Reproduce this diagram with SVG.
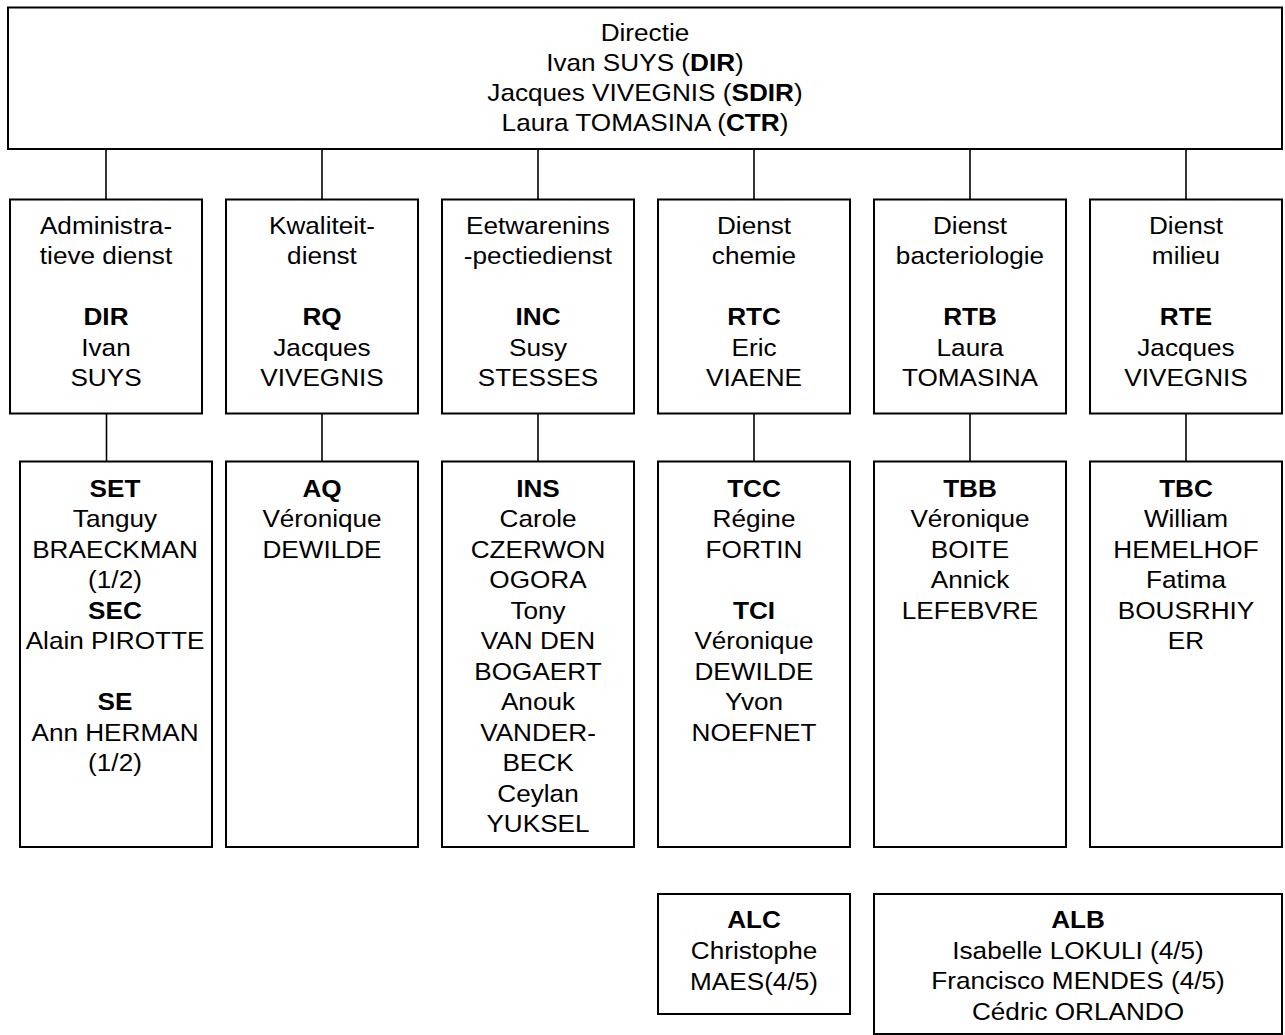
<svg xmlns="http://www.w3.org/2000/svg" width="1285" height="1035" viewBox="0 0 1285 1035">
<style>
  .box { fill: #ffffff; stroke: #000000; stroke-width: 2; }
  .conn line { stroke: #000000; stroke-width: 1.6; }
  text { font-family: "Liberation Sans", Arial, sans-serif; font-size: 24px; fill: #000000; text-anchor: middle; }
  .b { font-weight: bold; }
</style>
<rect x="0" y="0" width="1285" height="1035" fill="#ffffff"/>

<g id="connectors" class="conn">
  <line x1="106" y1="149" x2="106" y2="199.5"/>
  <line x1="322" y1="149" x2="322" y2="199.5"/>
  <line x1="538" y1="149" x2="538" y2="199.5"/>
  <line x1="754" y1="149" x2="754" y2="199.5"/>
  <line x1="970" y1="149" x2="970" y2="199.5"/>
  <line x1="1186" y1="149" x2="1186" y2="199.5"/>
  <line x1="106.5" y1="413.5" x2="106.5" y2="461.5"/>
  <line x1="322" y1="413.5" x2="322" y2="461.5"/>
  <line x1="538" y1="413.5" x2="538" y2="461.5"/>
  <line x1="754" y1="413.5" x2="754" y2="461.5"/>
  <line x1="970" y1="413.5" x2="970" y2="461.5"/>
  <line x1="1186" y1="413.5" x2="1186" y2="461.5"/>
</g>

<g id="directie">
  <rect class="box" x="8" y="7.5" width="1274" height="141.5"/>
  <g transform="translate(645,0) scale(1.09,1)">
    <text x="0" y="41.5">Directie</text>
    <text x="0" y="71.5">Ivan SUYS (<tspan class="b">DIR</tspan>)</text>
    <text x="0" y="101.5">Jacques VIVEGNIS (<tspan class="b">SDIR</tspan>)</text>
    <text x="0" y="131.5">Laura TOMASINA (<tspan class="b">CTR</tspan>)</text>
  </g>
</g>

<g id="admin">
  <rect class="box" x="10" y="199.5" width="192" height="214"/>
  <g transform="translate(106,0) scale(1.09,1)">
    <text x="0" y="234">Administra-</text>
    <text x="0" y="264.5">tieve dienst</text>
    <text x="0" y="325.5" class="b">DIR</text>
    <text x="0" y="356">Ivan</text>
    <text x="0" y="386.5">SUYS</text>
  </g>
</g>

<g id="kwaliteit">
  <rect class="box" x="226" y="199.5" width="192" height="214"/>
  <g transform="translate(322,0) scale(1.09,1)">
    <text x="0" y="234">Kwaliteit-</text>
    <text x="0" y="264.5">dienst</text>
    <text x="0" y="325.5" class="b">RQ</text>
    <text x="0" y="356">Jacques</text>
    <text x="0" y="386.5">VIVEGNIS</text>
  </g>
</g>

<g id="eetwaren">
  <rect class="box" x="442" y="199.5" width="192" height="214"/>
  <g transform="translate(538,0) scale(1.09,1)">
    <text x="0" y="234">Eetwarenins</text>
    <text x="0" y="264.5">-pectiedienst</text>
    <text x="0" y="325.5" class="b">INC</text>
    <text x="0" y="356">Susy</text>
    <text x="0" y="386.5">STESSES</text>
  </g>
</g>

<g id="chemie">
  <rect class="box" x="658" y="199.5" width="192" height="214"/>
  <g transform="translate(754,0) scale(1.09,1)">
    <text x="0" y="234">Dienst</text>
    <text x="0" y="264.5">chemie</text>
    <text x="0" y="325.5" class="b">RTC</text>
    <text x="0" y="356">Eric</text>
    <text x="0" y="386.5">VIAENE</text>
  </g>
</g>

<g id="bacteriologie">
  <rect class="box" x="874" y="199.5" width="192" height="214"/>
  <g transform="translate(970,0) scale(1.09,1)">
    <text x="0" y="234">Dienst</text>
    <text x="0" y="264.5">bacteriologie</text>
    <text x="0" y="325.5" class="b">RTB</text>
    <text x="0" y="356">Laura</text>
    <text x="0" y="386.5">TOMASINA</text>
  </g>
</g>

<g id="milieu">
  <rect class="box" x="1090" y="199.5" width="192" height="214"/>
  <g transform="translate(1186,0) scale(1.09,1)">
    <text x="0" y="234">Dienst</text>
    <text x="0" y="264.5">milieu</text>
    <text x="0" y="325.5" class="b">RTE</text>
    <text x="0" y="356">Jacques</text>
    <text x="0" y="386.5">VIVEGNIS</text>
  </g>
</g>

<g id="set">
  <rect class="box" x="20" y="461.5" width="192" height="385.5"/>
  <g transform="translate(115,0) scale(1.09,1)">
    <text x="0" y="497" class="b">SET</text>
    <text x="0" y="527.5">Tanguy</text>
    <text x="0" y="558">BRAECKMAN</text>
    <text x="0" y="588.5">(1/2)</text>
    <text x="0" y="619" class="b">SEC</text>
    <text x="0" y="649.5">Alain PIROTTE</text>
    <text x="0" y="710.5" class="b">SE</text>
    <text x="0" y="741">Ann HERMAN</text>
    <text x="0" y="771.5">(1/2)</text>
  </g>
</g>

<g id="aq">
  <rect class="box" x="226" y="461.5" width="192" height="385.5"/>
  <g transform="translate(322,0) scale(1.09,1)">
    <text x="0" y="497" class="b">AQ</text>
    <text x="0" y="527.5">Véronique</text>
    <text x="0" y="558">DEWILDE</text>
  </g>
</g>

<g id="ins">
  <rect class="box" x="442" y="461.5" width="192" height="385.5"/>
  <g transform="translate(538,0) scale(1.09,1)">
    <text x="0" y="497" class="b">INS</text>
    <text x="0" y="527.5">Carole</text>
    <text x="0" y="558">CZERWON</text>
    <text x="0" y="588.5">OGORA</text>
    <text x="0" y="619">Tony</text>
    <text x="0" y="649.5">VAN DEN</text>
    <text x="0" y="680">BOGAERT</text>
    <text x="0" y="710.5">Anouk</text>
    <text x="0" y="741">VANDER-</text>
    <text x="0" y="771.5">BECK</text>
    <text x="0" y="802">Ceylan</text>
    <text x="0" y="832.5">YUKSEL</text>
  </g>
</g>

<g id="tcc">
  <rect class="box" x="658" y="461.5" width="192" height="385.5"/>
  <g transform="translate(754,0) scale(1.09,1)">
    <text x="0" y="497" class="b">TCC</text>
    <text x="0" y="527.5">Régine</text>
    <text x="0" y="558">FORTIN</text>
    <text x="0" y="619" class="b">TCI</text>
    <text x="0" y="649.5">Véronique</text>
    <text x="0" y="680">DEWILDE</text>
    <text x="0" y="710.5">Yvon</text>
    <text x="0" y="741">NOEFNET</text>
  </g>
</g>

<g id="tbb">
  <rect class="box" x="874" y="461.5" width="192" height="385.5"/>
  <g transform="translate(970,0) scale(1.09,1)">
    <text x="0" y="497" class="b">TBB</text>
    <text x="0" y="527.5">Véronique</text>
    <text x="0" y="558">BOITE</text>
    <text x="0" y="588.5">Annick</text>
    <text x="0" y="619">LEFEBVRE</text>
  </g>
</g>

<g id="tbc">
  <rect class="box" x="1090" y="461.5" width="192" height="385.5"/>
  <g transform="translate(1186,0) scale(1.09,1)">
    <text x="0" y="497" class="b">TBC</text>
    <text x="0" y="527.5">William</text>
    <text x="0" y="558">HEMELHOF</text>
    <text x="0" y="588.5">Fatima</text>
    <text x="0" y="619">BOUSRHIY</text>
    <text x="0" y="649.5">ER</text>
  </g>
</g>

<g id="alc">
  <rect class="box" x="658" y="894" width="192" height="120"/>
  <g transform="translate(754,0) scale(1.09,1)">
    <text x="0" y="928.5" class="b">ALC</text>
    <text x="0" y="959.5">Christophe</text>
    <text x="0" y="990">MAES(4/5)</text>
  </g>
</g>

<g id="alb">
  <rect class="box" x="874" y="894" width="408" height="140"/>
  <g transform="translate(1078,0) scale(1.09,1)">
    <text x="0" y="928.5" class="b">ALB</text>
    <text x="0" y="959.5">Isabelle LOKULI (4/5)</text>
    <text x="0" y="989.5">Francisco MENDES (4/5)</text>
    <text x="0" y="1020">Cédric ORLANDO</text>
  </g>
</g>
</svg>
